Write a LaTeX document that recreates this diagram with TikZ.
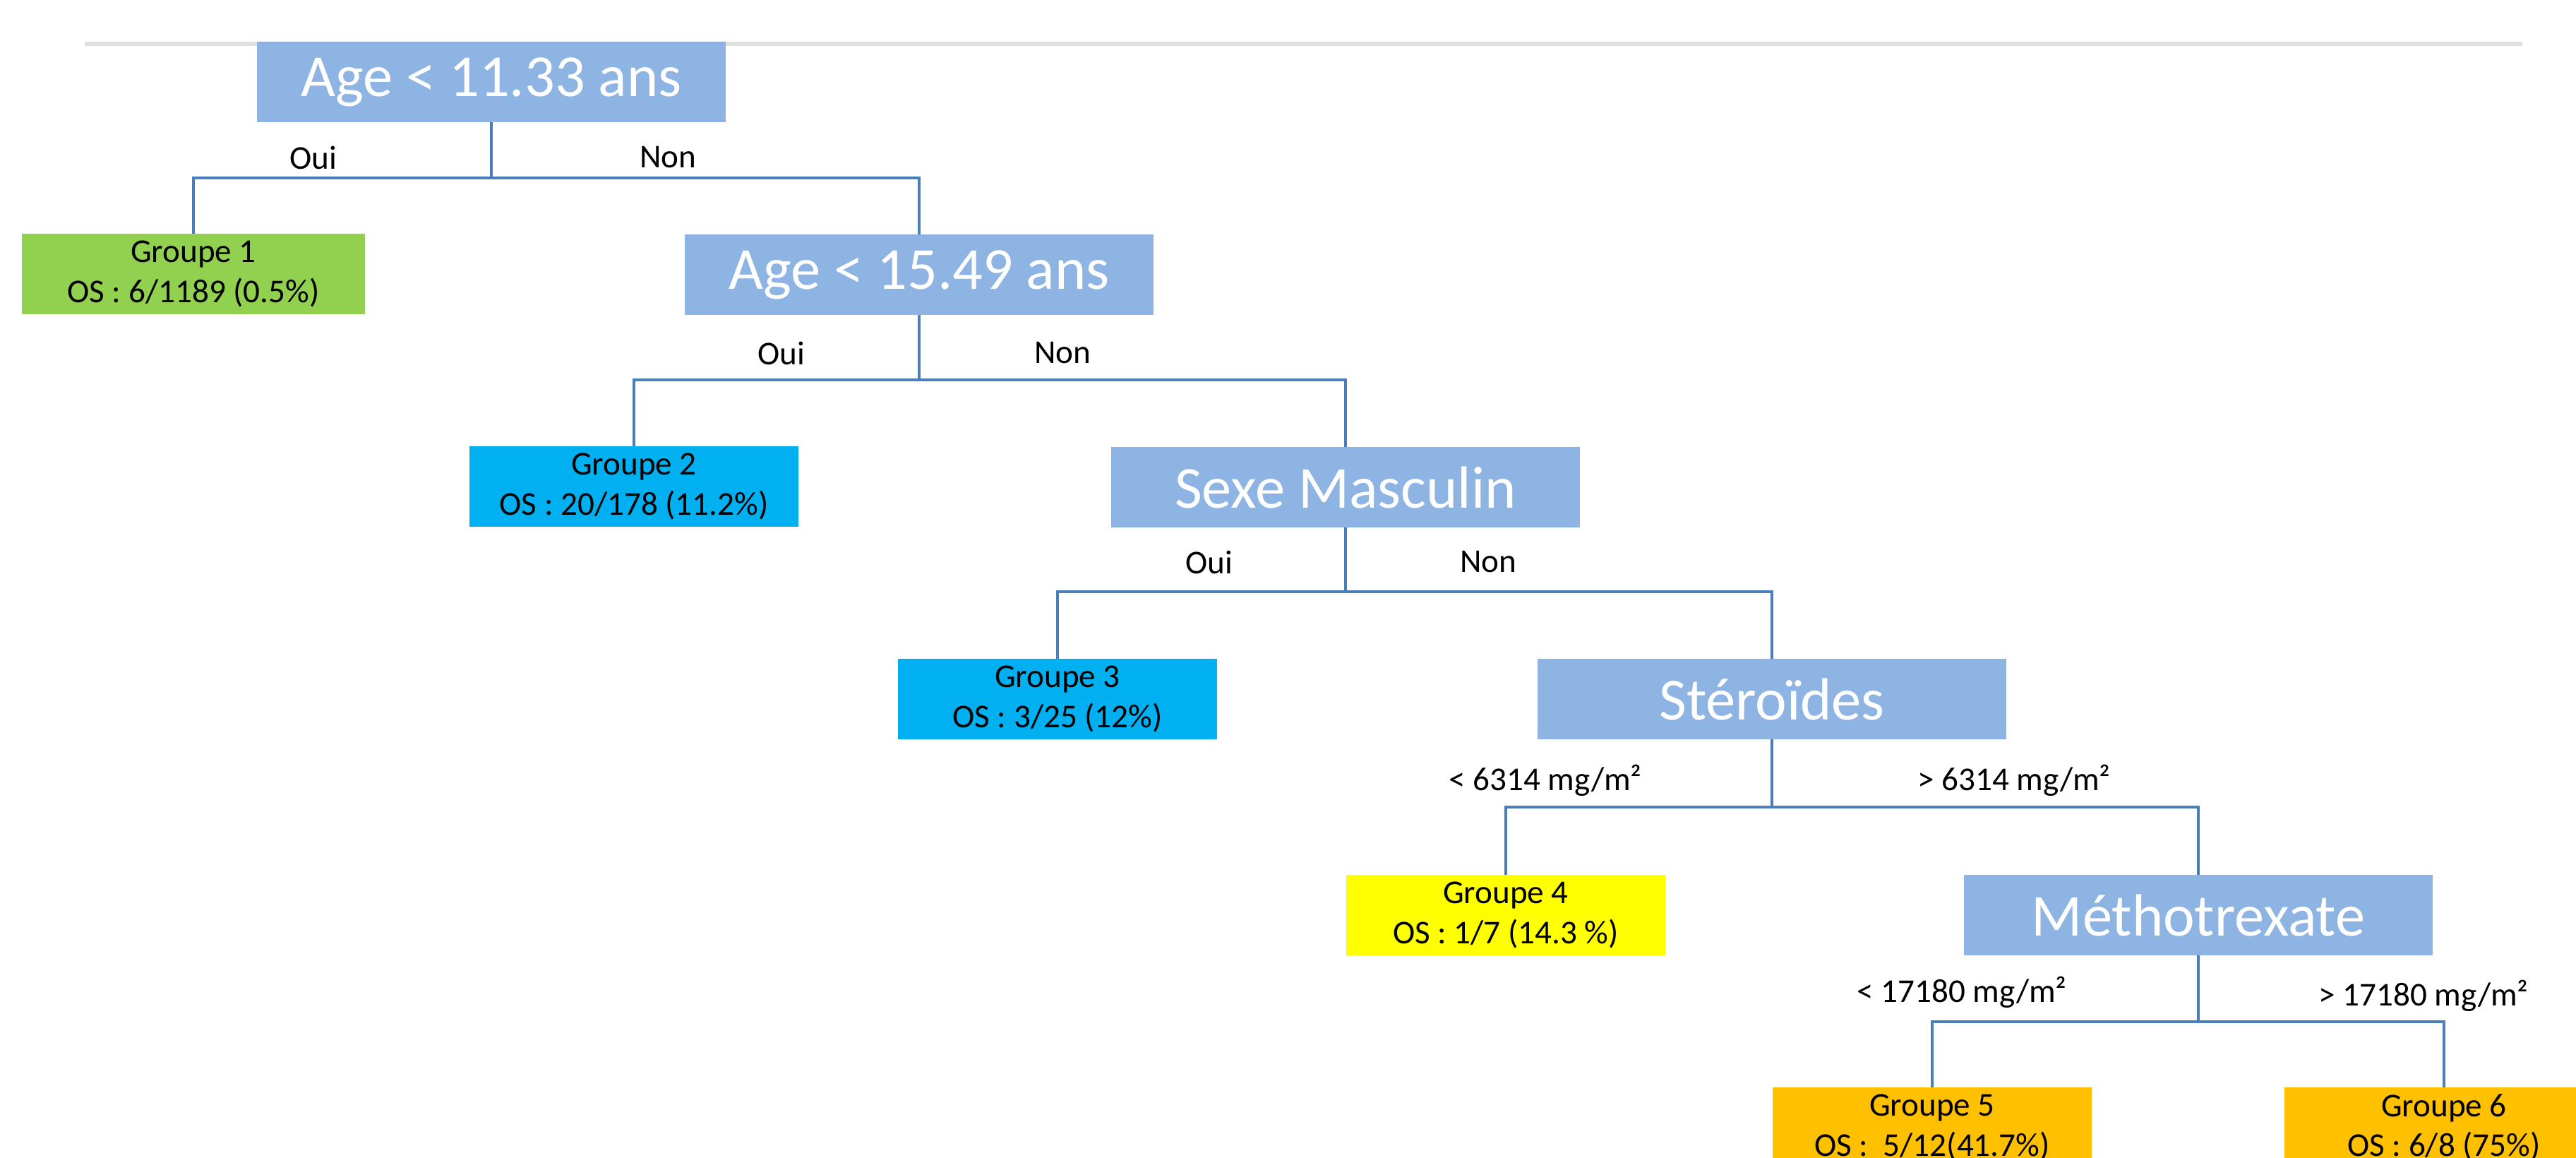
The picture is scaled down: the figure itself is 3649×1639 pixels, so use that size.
\documentclass[tikz,border=0pt]{standalone}
\usepackage{fontspec}
\setmainfont{Carlito}
\definecolor{testblue}{HTML}{8EB4E3}
\definecolor{linkblue}{HTML}{4A7EBB}
\definecolor{grpvert}{HTML}{92D050}
\definecolor{grpbleu}{HTML}{00B0F0}
\definecolor{grpjaune}{HTML}{FFFF00}
\definecolor{grporange}{HTML}{FFC000}
\begin{document}
\begin{tikzpicture}[x=0.01cm,y=-0.01cm,
  test/.style={fill=testblue,text=white,inner sep=0pt,minimum width=6.64cm,minimum height=1.13cm,font=\fontsize{24}{29}\selectfont},
  groupe/.style={inner sep=0pt,minimum width=4.52cm,minimum height=1.13cm,align=center,font=\fontsize{13.4}{16}\selectfont},
  link/.style={draw=linkblue,line width=0.04cm},
  lab/.style={font=\fontsize{13.4}{16}\selectfont}]
\useasboundingbox (0,0) rectangle (3649,1639);
\clip (0,0) rectangle (3649,1639);
\draw[black!12,line width=0.06cm] (120,62)--(3573,62);

\node[test] (age1) at (696,116) {Age < 11.33 ans};
\node[groupe,fill=grpvert,minimum width=4.85cm] (g1) at (274,388) {Groupe 1\\OS : 6/1189 (0.5\%)};
\node[test] (age2) at (1302,389) {Age < 15.49 ans};
\node[groupe,fill=grpbleu,minimum width=4.65cm] (g2) at (898,689) {Groupe 2\\OS : 20/178 (11.2\%)};
\node[test] (sexe) at (1906,690) {Sexe Masculin};
\node[groupe,fill=grpbleu] (g3) at (1498,990) {Groupe 3\\OS : 3/25 (12\%)};
\node[test] (ster) at (2510,990) {Stéroïdes};
\node[groupe,fill=grpjaune] (g4) at (2133,1296) {Groupe 4\\OS : 1/7 (14.3 \%)};
\node[test] (mtx) at (3114,1296) {Méthotrexate};
\node[groupe,fill=grporange] (g5) at (2737,1597) {Groupe 5\\OS : \ 5/12(41.7\%)};
\node[groupe,fill=grporange] (g6) at (3462,1597) {Groupe 6\\OS : 6/8 (75\%)};

\coordinate (j1) at (696,252);
\coordinate (j2) at (1302,538);
\coordinate (j3) at (1906,838);
\coordinate (j4) at (2510,1143);
\coordinate (j5) at (3114,1447);
\draw[link] (age1)--(j1)-|(g1);
\draw[link] (j1)-|(age2);
\draw[link] (age2)--(j2)-|(g2);
\draw[link] (j2)-|(sexe);
\draw[link] (sexe)--(j3)-|(g3);
\draw[link] (j3)-|(ster);
\draw[link] (ster)--(j4)-|(g4);
\draw[link] (j4)-|(mtx);
\draw[link] (mtx)--(j5)-|(g5);
\draw[link] (j5)-|(g6);

\node[lab] (oui1) at (444,223) {Oui};
\node[lab] (non1) at (946,223) {Non};
\node[lab] (oui2) at (1107,500) {Oui};
\node[lab] (non2) at (1505,500) {Non};
\node[lab] (oui3) at (1713,796) {Oui};
\node[lab] (non3) at (2108,796) {Non};
\node[lab] (inf4) at (2189,1105) {< 6314 mg/m²};
\node[lab] (sup4) at (2853,1105) {> 6314 mg/m²};
\node[lab] (inf5) at (2779,1405) {< 17180 mg/m²};
\node[lab] (sup5) at (3433,1410) {> 17180 mg/m²};
\end{tikzpicture}
\end{document}
